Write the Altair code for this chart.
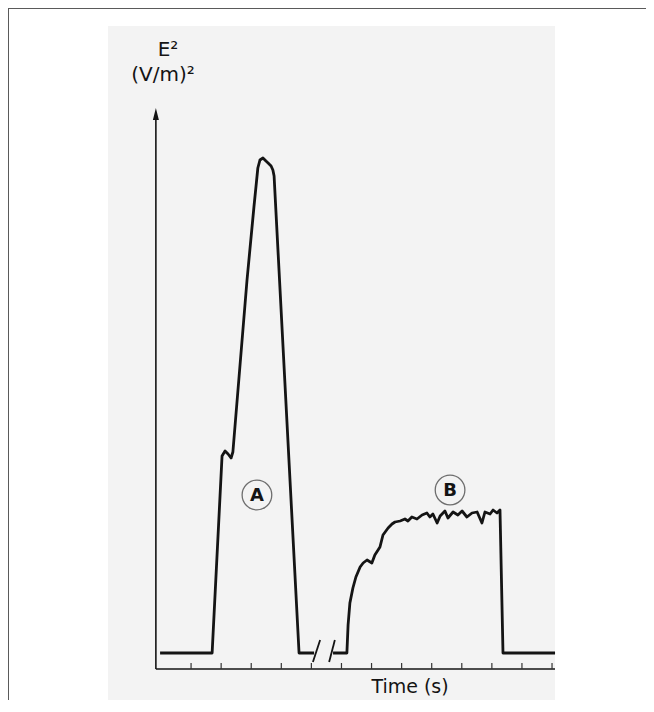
import altair as alt
import pandas as pd

# ---- data (time in s ticks, E^2 in arbitrary units) ----
a_time = [-0.03, 1.70, 2.03, 2.13, 2.23, 2.33, 2.39, 2.86, 3.09, 3.22, 3.29, 3.39, 3.49,
          3.56, 3.66, 3.72, 3.76, 4.59, 5.09]
a_e2 = [1.6, 1.6, 21.3, 21.8, 21.5, 21.1, 21.7, 38.9, 46.2, 50.1, 50.9, 51.1, 50.8,
        50.6, 50.3, 49.9, 49.3, 1.6, 1.6]

b_time = [5.72, 6.18, 6.22, 6.28, 6.38, 6.48, 6.62, 6.72, 6.85, 7.01,
          7.11, 7.28, 7.38, 7.55, 7.68, 7.78, 7.95, 8.11, 8.21, 8.34,
          8.51, 8.68, 8.84, 8.94, 9.04, 9.18, 9.28, 9.44, 9.54, 9.71,
          9.87, 10.01, 10.17, 10.34, 10.51, 10.67, 10.77, 10.94, 11.04, 11.17,
          11.27, 11.37, 13.10]
b_e2 = [1.6, 1.6, 4.4, 6.6, 8.1, 9.2, 10.2, 10.6, 10.9, 10.6,
        11.4, 12.2, 13.4, 14.1, 14.5, 14.7, 14.8, 15.0, 14.8, 15.2,
        15.0, 15.4, 15.6, 15.2, 15.5, 14.6, 15.3, 15.8, 15.1, 15.7,
        15.4, 15.8, 15.2, 15.6, 15.7, 14.6, 15.7, 15.5, 15.9, 15.6,
        15.9, 1.6, 1.6]

tick_time = list(range(1, 14))

break_t0 = [5.05, 5.59]
break_t1 = [5.29, 5.78]
break_lo = [0.7, 0.7]
break_hi = [2.9, 2.9]

marker_label = ["A", "B"]
marker_time = [3.19, 9.61]
marker_e2 = [17.4, 17.9]

axis_x_start, axis_x_end = -0.17, 13.10
axis_y_top = 55.0

# ---- tables ----
trace = pd.DataFrame({
    "t": a_time + b_time,
    "e": a_e2 + b_e2,
    "seg": ["A"] * len(a_time) + ["B"] * len(b_time),
    "i": list(range(len(a_time) + len(b_time))),
})
ticks = pd.DataFrame({"t": tick_time, "e0": [0.0] * len(tick_time), "e1": [0.6] * len(tick_time)})
breaks = pd.DataFrame({"t0": break_t0, "t1": break_t1, "e0": break_lo, "e1": break_hi})
markers = pd.DataFrame({"label": marker_label, "t": marker_time, "e": marker_e2})
axes = pd.DataFrame({"t0": [axis_x_start, axis_x_start], "t1": [axis_x_end, axis_x_start],
                     "e0": [0.0, 0.0], "e1": [0.0, axis_y_top]})
arrow = pd.DataFrame({"t": [axis_x_start], "e": [axis_y_top + 0.5]})

W, H = 638, 692
xs = alt.Scale(domain=[-5.086, 16.124], nice=False, zero=False)
ys = alt.Scale(domain=[-3.1, 66.1], nice=False, zero=False)
FONT = "DejaVu Sans"
INK = "#141414"

one = pd.DataFrame({"k": [0]})
panel = alt.Chart(one).mark_rect(color="#f3f3f3").encode(
    x=alt.value(100), x2=alt.value(547), y=alt.value(18), y2=alt.value(H))
border_left = alt.Chart(one).mark_rule(color="#5a5a5a", strokeWidth=2).encode(
    x=alt.value(0), y=alt.value(0), y2=alt.value(H))
border_top = alt.Chart(one).mark_rule(color="#5a5a5a", strokeWidth=2).encode(
    y=alt.value(0), x=alt.value(0), x2=alt.value(W))

axis_lines = alt.Chart(axes).mark_rule(color=INK, strokeWidth=1.6).encode(
    x=alt.X("t0:Q", scale=xs, axis=None), x2="t1:Q",
    y=alt.Y("e0:Q", scale=ys, axis=None), y2="e1:Q")
arrow_head = alt.Chart(arrow).mark_point(
    shape="M0,-1L0.5,1L-0.5,1Z", size=144, filled=True, color=INK, opacity=1).encode(
    x=alt.X("t:Q", scale=xs), y=alt.Y("e:Q", scale=ys))
tick_marks = alt.Chart(ticks).mark_rule(color="#333333", strokeWidth=1.2).encode(
    x=alt.X("t:Q", scale=xs), y=alt.Y("e0:Q", scale=ys), y2="e1:Q")

line = alt.Chart(trace).mark_line(color=INK, strokeWidth=2.8, strokeJoin="round").encode(
    x=alt.X("t:Q", scale=xs), y=alt.Y("e:Q", scale=ys), detail="seg:N", order="i:Q")
slashes = alt.Chart(breaks).mark_rule(color=INK, strokeWidth=1.8).encode(
    x=alt.X("t0:Q", scale=xs), x2="t1:Q", y=alt.Y("e0:Q", scale=ys), y2="e1:Q")

circles = alt.Chart(markers).mark_point(shape="circle", size=880, filled=False,
                                         color="#6e6e6e", strokeWidth=1.3, opacity=1).encode(
    x=alt.X("t:Q", scale=xs), y=alt.Y("e:Q", scale=ys))
letters = alt.Chart(markers).mark_text(font=FONT, fontSize=18, fontWeight="bold",
                                       color=INK, baseline="middle", align="center", dy=1).encode(
    x=alt.X("t:Q", scale=xs), y=alt.Y("e:Q", scale=ys), text="label:N")

ytitle1 = alt.Chart(pd.DataFrame({"s": ["E²"]})).mark_text(
    font=FONT, fontSize=20, color=INK, align="center", baseline="middle").encode(
    x=alt.value(160), y=alt.value(42), text="s:N")
ytitle2 = alt.Chart(pd.DataFrame({"s": ["(V/m)²"]})).mark_text(
    font=FONT, fontSize=20, color=INK, align="center", baseline="middle").encode(
    x=alt.value(155), y=alt.value(67), text="s:N")
xtitle = alt.Chart(pd.DataFrame({"s": ["Time (s)"]})).mark_text(
    font=FONT, fontSize=19, color=INK, align="center", baseline="middle").encode(
    x=alt.value(402), y=alt.value(679), text="s:N")

chart = alt.layer(
    panel, border_left, border_top, axis_lines, arrow_head, tick_marks,
    line, slashes, circles, letters, ytitle1, ytitle2, xtitle
).properties(
    width=W, height=H, padding=0, background="white",
    autosize=alt.AutoSizeParams(type="none"),
).configure_view(stroke=None)

chart.save("out.html", embed_options={"renderer": "svg", "actions": False})
